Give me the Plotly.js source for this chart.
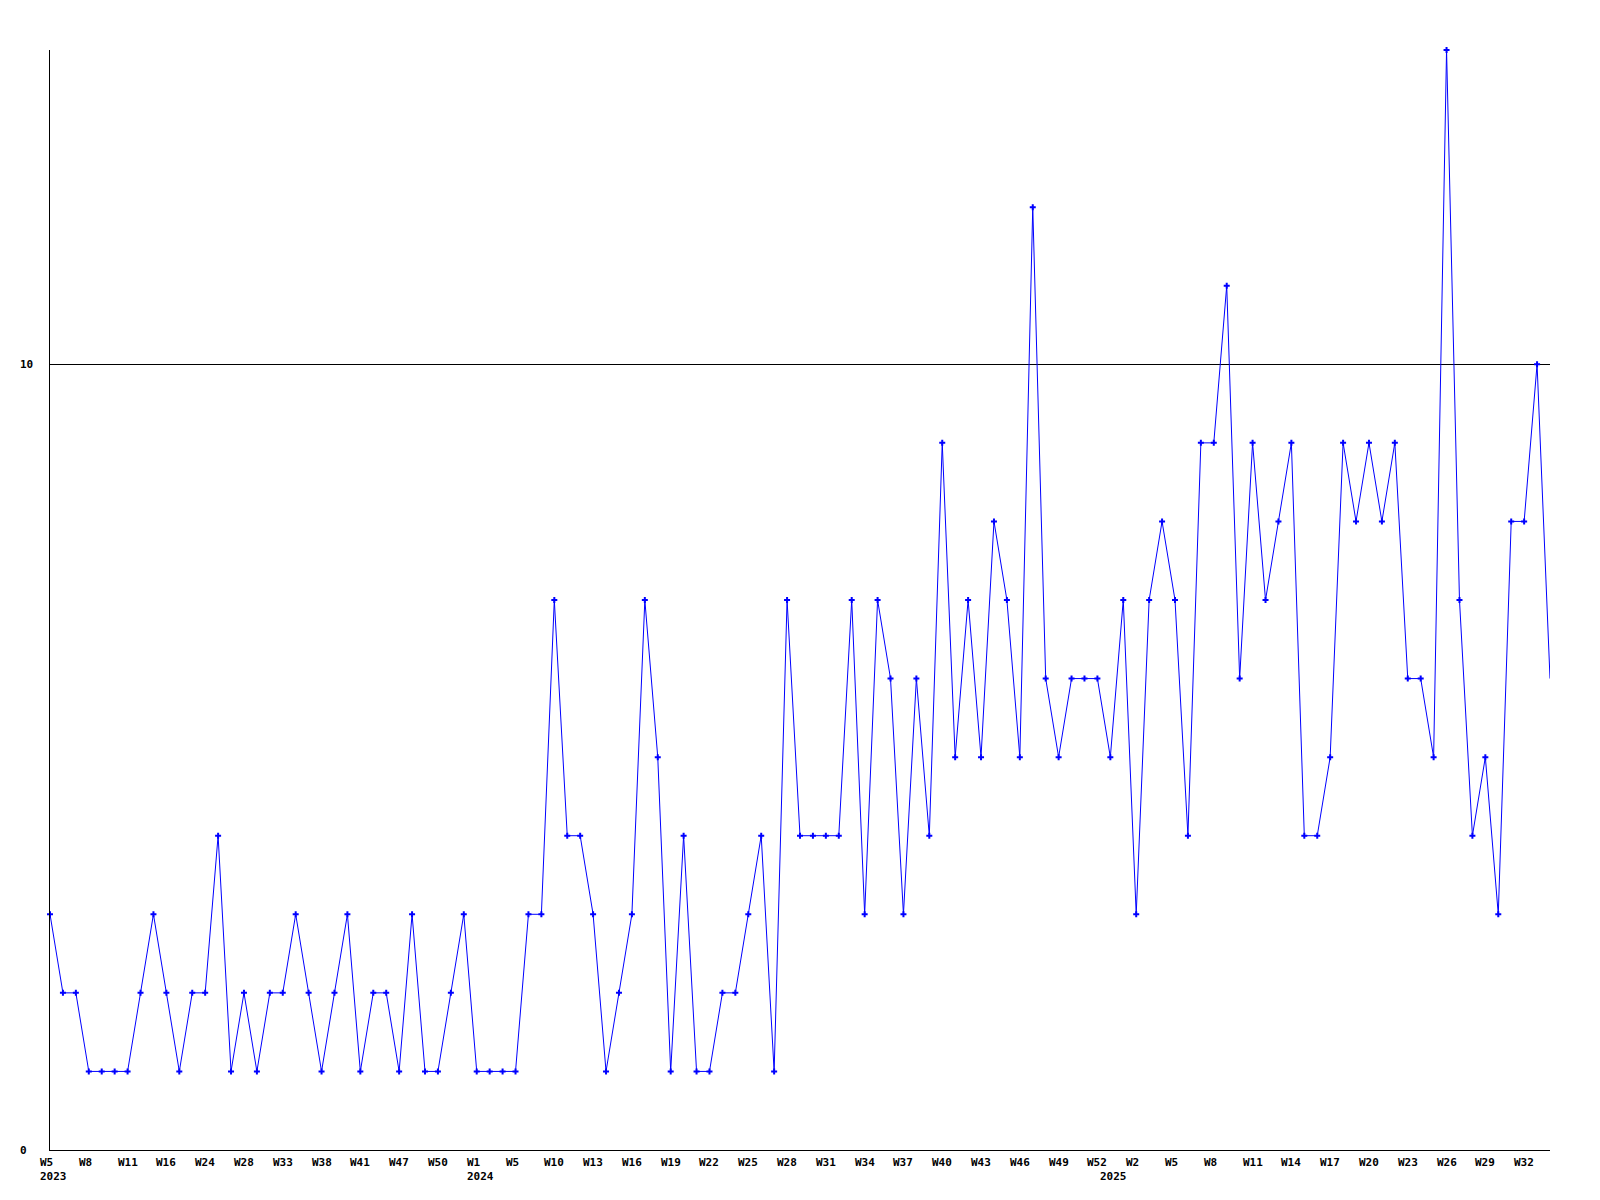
<!DOCTYPE html>
<html>
<head>
<meta charset="utf-8">
<script src="https://cdn.plot.ly/plotly-3.0.1.min.js"></script>
<style>html,body{margin:0;padding:0;background:#fff;}#chart{width:1600px;height:1200px;}</style>
</head>
<body>
<div id="chart"></div>
<script>
// Weekly values, one per plotted point (left to right)
const values = [
  3,2,2,1,1,1,1,2,3,2,
  1,2,2,4,1,2,1,2,2,3,
  2,1,2,3,1,2,2,1,3,1,
  1,2,3,1,1,1,1,3,3,7,
  4,4,3,1,2,3,7,5,1,4,
  1,1,2,2,3,4,1,7,4,4,
  4,4,7,3,7,6,3,6,4,9,
  5,7,5,8,7,5,12,6,5,6,
  6,6,5,7,3,7,8,7,4,9,
  9,11,6,9,7,8,9,4,4,5,
  9,8,9,8,9,6,6,5,14,7,
  4,5,3,8,8,10,6
];
// Week labels shown under every third point
const weekLabels = ["W5","W8","W11","W16","W24","W28","W33","W38","W41","W47","W50",
  "W1","W5","W10","W13","W16","W19","W22","W25","W28","W31","W34","W37","W40","W43","W46","W49","W52",
  "W2","W5","W8","W11","W14","W17","W20","W23","W26","W29","W32"];
const weekLabelStep = 3;
// Year labels and the point index where each year starts
const yearLabels = ["2023","2024","2025"];
const yearStartIndex = [0, 33, 82];
// Y axis labels
const yTickValues = [0, 10];
const yTickLabels = ["0", "10"];

const xs = values.map((_, i) => i);
const labelFont = {family: "DejaVu Sans Mono", size: 11, color: "#000", weight: "bold"};

const annotations = [];
weekLabels.forEach((t, k) => {
  annotations.push({x: k * weekLabelStep, xref: "x", y: 0, yref: "paper", text: t,
    showarrow: false, xanchor: "left", yanchor: "middle", xshift: -12, yshift: -12, font: labelFont});
});
yearLabels.forEach((t, k) => {
  annotations.push({x: yearStartIndex[k], xref: "x", y: 0, yref: "paper", text: t,
    showarrow: false, xanchor: "left", yanchor: "middle", xshift: -12, yshift: -26.5, font: labelFont});
});
yTickValues.forEach((v, k) => {
  annotations.push({x: 0, xref: "paper", y: v, yref: "y", text: yTickLabels[k],
    showarrow: false, xanchor: "left", yanchor: "middle", xshift: -32, font: labelFont});
});

const traces = [
  {x: xs, y: values, type: "scatter", mode: "lines",
   line: {color: "#0000ff", width: 1}, hoverinfo: "skip", cliponaxis: false},
  {x: xs.slice(0, -1), y: values.slice(0, -1), type: "scatter", mode: "markers",
   marker: {color: "#0000ff", symbol: "cross", size: 5, line: {width: 0}}, cliponaxis: false}
];

const layout = {
  width: 1600, height: 1200,
  margin: {l: 50, r: 50, t: 50, b: 50, pad: 0},
  paper_bgcolor: "#ffffff", plot_bgcolor: "#ffffff",
  showlegend: false,
  xaxis: {range: [0, values.length - 1], showgrid: false, zeroline: false,
    showline: true, linecolor: "#000", linewidth: 1, ticks: "", showticklabels: false},
  yaxis: {range: [0, 14], tickmode: "array", tickvals: yTickValues, showgrid: true,
    gridcolor: "#000", gridwidth: 1, zeroline: false, showline: true, linecolor: "#000",
    linewidth: 1, ticks: "", showticklabels: false},
  annotations: annotations
};

Plotly.newPlot("chart", traces, layout, {displayModeBar: false, staticPlot: true});
</script>
</body>
</html>
